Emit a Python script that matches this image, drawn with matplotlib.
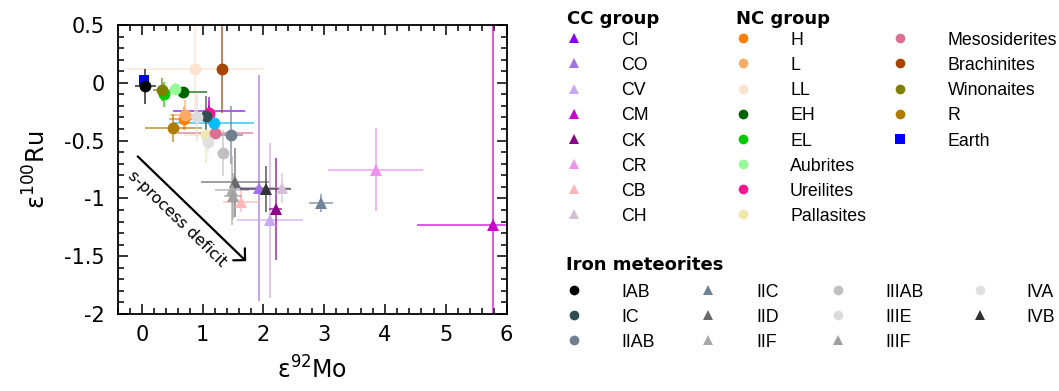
import matplotlib
matplotlib.use("Agg")
import matplotlib.pyplot as plt
from matplotlib.colors import to_rgba
from matplotlib.ticker import MultipleLocator, FuncFormatter

plt.rcParams['font.family'] = ['Liberation Sans', 'DejaVu Sans']
plt.rcParams['axes.unicode_minus'] = False
plt.rcParams['mathtext.fontset'] = 'dejavusans'

# carbonaceous chondrites (CC group)
cc_names = ['CI', 'CO', 'CV', 'CM', 'CK', 'CR', 'CB', 'CH']
cc_colors = ['#8a00ff', '#a070e6', '#c9aaf2', '#cc00cc', '#8b008b', '#ee92ee', '#ffb6b6', '#d8bfd8']
cc_mo = [1.11, 1.93, 2.11, 5.78, 2.20, 3.85, 1.63, 2.31]
cc_mo_err = [0.59, 0.40, 0.55, 1.25, 0.10, 0.78, 0.30, 0.12]
cc_ru = [-0.24, -0.91, -1.19, -1.23, -1.09, -0.75, -1.03, -0.91]
cc_ru_err = [0.12, 0.98, 0.67, 2.00, 0.44, 0.36, 0.09, 0.13]

# non-carbonaceous group
nc_names = ['H', 'L', 'LL', 'EH', 'EL', 'Aubrites', 'Ureilites', 'Pallasites',
            'Mesosiderites', 'Brachinites', 'Winonaites', 'R', 'Earth', '']
nc_colors = ['#ff7f00', '#ffaa66', '#fde3cf', '#006400', '#00cc00', '#98fb98', '#ff1493', '#eee8aa',
             '#db7093', '#a84300', '#808000', '#b07c00', '#0000ff', '#00bfff']
nc_markers = ['o'] * 12 + ['s', 'o']
nc_mo = [0.70, 0.71, 0.87, 0.67, 0.37, 0.54, 1.10, 1.05, 1.21, 1.32, 0.33, 0.52, 0.04, 1.18]
nc_mo_err = [0.25, 0.25, 1.12, 0.40, 0.05, 0.05, 0.10, 0.35, 0.62, 0.00, 0.15, 0.47, 0.08, 0.66]
nc_ru = [-0.31, -0.28, 0.12, -0.08, -0.10, -0.05, -0.26, -0.45, -0.43, 0.12, -0.06, -0.39, 0.02, -0.35]
nc_ru_err = [0.10, 0.13, 0.44, 0.03, 0.11, 0.05, 0.10, 0.24, 0.05, 0.38, 0.10, 0.12, 0.05, 0.05]

# iron meteorites
fe_names = ['IAB', 'IC', 'IIAB', 'IIC', 'IID', 'IIF', 'IIIAB', 'IIIE', 'IIIF', 'IVA', 'IVB']
fe_colors = ['#000000', '#2f4f4f', '#708090', '#708499', '#696969', '#a9a9a9',
             '#c0c0c0', '#dcdcdc', '#a0a0a0', '#e0e0e0', '#333333']
fe_markers = ['o', 'o', 'o', '^', '^', '^', 'o', 'o', '^', 'o', '^']
fe_mo = [0.06, 1.06, 1.46, 2.95, 1.54, 1.48, 1.33, 0.91, 1.50, 1.09, 2.04]
fe_mo_err = [0.17, 0.15, 0.20, 0.20, 0.56, 0.28, 0.10, 0.10, 0.15, 0.10, 0.42]
fe_ru = [-0.03, -0.29, -0.45, -1.04, -0.86, -0.93, -0.61, -0.30, -0.98, -0.51, -0.92]
fe_ru_err = [0.15, 0.18, 0.25, 0.08, 0.30, 0.30, 0.20, 0.20, 0.20, 0.10, 0.20]

W, H = 1059, 391
fig = plt.figure(figsize=(W / 100, H / 100), dpi=100)
ax = fig.add_axes([117.5 / W, 1 - 314 / H, 389 / W, 289 / H])

groups = [
    (cc_mo, cc_mo_err, cc_ru, cc_ru_err, cc_colors, ['^'] * len(cc_names)),
    (nc_mo, nc_mo_err, nc_ru, nc_ru_err, nc_colors, nc_markers),
    (fe_mo, fe_mo_err, fe_ru, fe_ru_err, fe_colors, fe_markers),
]

# error bars first, markers on top
for mo, mo_err, ru, ru_err, colors, markers in groups:
    for i in range(len(mo)):
        ax.errorbar(mo[i], ru[i], xerr=mo_err[i], yerr=ru_err[i], fmt='none',
                    ecolor=to_rgba(colors[i], 0.65), elinewidth=1.4, capsize=0, zorder=2)
for mo, mo_err, ru, ru_err, colors, markers in groups:
    for i in range(len(mo)):
        ms = 7 if markers[i] == 's' else 8.5
        ax.plot(mo[i], ru[i], marker=markers[i], color=colors[i], ms=ms, mew=0,
                linestyle='none', zorder=3)

ax.annotate('', xy=(1.75, -1.56), xytext=(-0.10, -0.62),
            arrowprops=dict(arrowstyle='->,head_length=0.3,head_width=0.3',
                            lw=1.6, color='k', mutation_scale=20))
ax.text(0.58, -1.18, 's-process deficit', rotation=-44, rotation_mode='anchor',
        ha='center', va='center', fontsize=11.5, family='DejaVu Sans')

ax.set_xlim(-0.4, 6.0)
ax.set_ylim(-2.0, 0.5)
ax.xaxis.set_major_locator(MultipleLocator(1))
ax.xaxis.set_minor_locator(MultipleLocator(0.2))
ax.yaxis.set_major_locator(MultipleLocator(0.5))
ax.yaxis.set_minor_locator(MultipleLocator(0.1))
ax.yaxis.set_major_formatter(FuncFormatter(lambda v, p: '%g' % v))
ax.xaxis.set_major_formatter(FuncFormatter(lambda v, p: '%g' % v))
ax.tick_params(which='both', direction='in', top=True, right=True, labelsize=15)
ax.tick_params(which='major', length=7.5, width=1.1)
ax.tick_params(which='minor', length=4, width=1.1)
ax.tick_params(axis='x', pad=8)
ax.tick_params(axis='y', pad=9)
for lab in ax.get_xticklabels() + ax.get_yticklabels():
    lab.set_family('DejaVu Sans')
for s in ax.spines.values():
    s.set_linewidth(1.3)
ax.set_xlabel('ε$^{92}$Mo', fontsize=17, labelpad=8, family='DejaVu Sans')
ax.set_ylabel('ε$^{100}$Ru', fontsize=17.5, labelpad=10, family='DejaVu Sans')

# legend panel drawn in figure pixel coordinates
lax = fig.add_axes([0, 0, 1, 1])
lax.set_xlim(0, W)
lax.set_ylim(H, 0)
lax.axis('off')

title_kw = dict(fontsize=13, fontweight='bold', family='DejaVu Sans', va='baseline', ha='left')
label_kw = dict(fontsize=12.8, va='baseline', ha='left')


def legend_entry(mx, tx, y, marker, color, name):
    ms = 6.5 if marker == 's' else 7
    lax.plot(mx, y, marker=marker, color=color, ms=ms, mew=0, linestyle='none')
    lax.text(tx, y + 6.7, name, **label_kw)


lax.text(567, 23.5, 'CC group', **title_kw)
lax.text(736, 23.5, 'NC group', **title_kw)
row = 25.15
for i, name in enumerate(cc_names):
    legend_entry(574, 621.5, 38.3 + i * row, '^', cc_colors[i], name)
for i, name in enumerate(nc_names):
    if not name:
        continue
    col, r = (0, i) if i < 8 else (1, i - 8)
    mx = [742.7, 900.3][col]
    tx = [790, 947.7][col]
    legend_entry(mx, tx, 38.3 + r * row, nc_markers[i], nc_colors[i], name)

lax.text(566.5, 270, 'Iron meteorites', **title_kw)
fe_mx = [574.3, 708.3, 837.7, 980]
fe_tx = [621.7, 756, 885.7, 1026.7]
for i, name in enumerate(fe_names):
    col, r = divmod(i, 3)
    legend_entry(fe_mx[col], fe_tx[col], 290 + r * row, fe_markers[i], fe_colors[i], name)

fig.savefig('out.png', dpi=100)
